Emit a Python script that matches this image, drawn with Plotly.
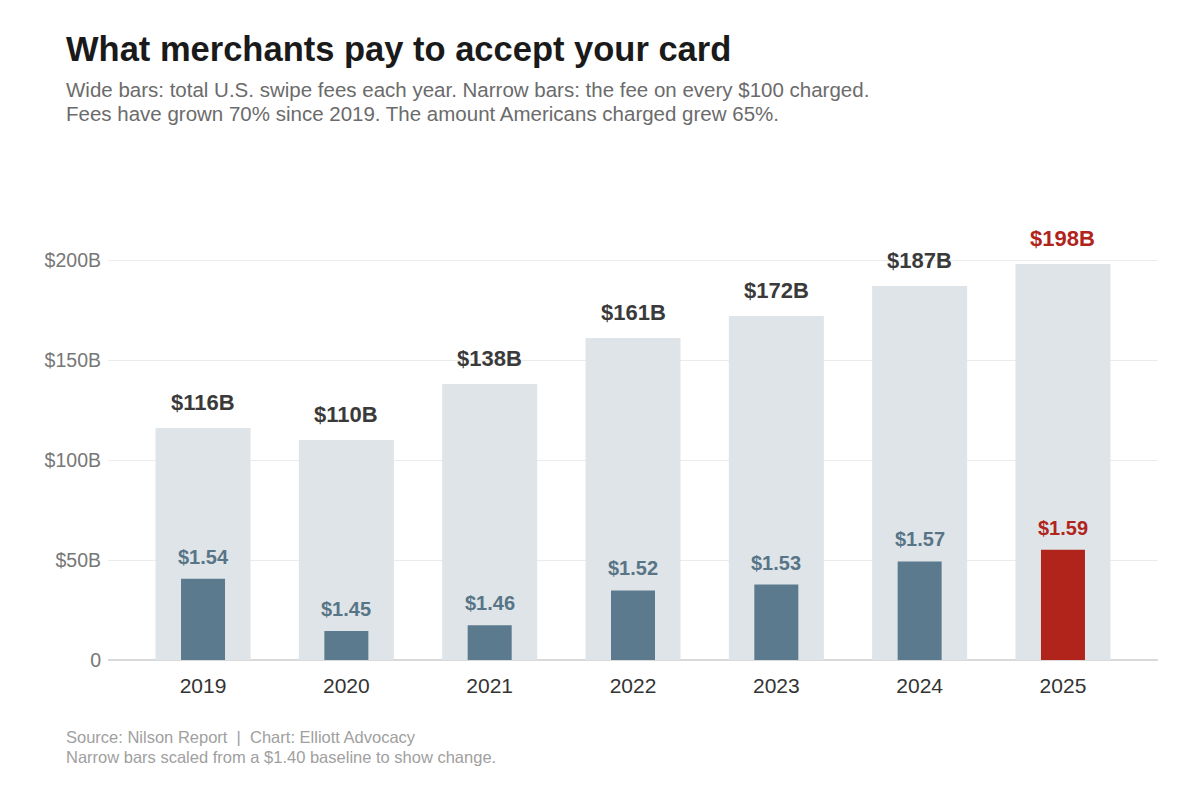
import plotly.graph_objects as go

years = ["2019", "2020", "2021", "2022", "2023", "2024", "2025"]
total_fees_b = [116, 110, 138, 161, 172, 187, 198]
fee_per_100 = [1.54, 1.45, 1.46, 1.52, 1.53, 1.57, 1.59]
fee_baseline = 1.40
fee_scale = 290  # $B of axis per $1 above baseline

y_ticks = [0, 50, 100, 150, 200]
y_tick_text = ["0", "$50B", "$100B", "$150B", "$200B"]

narrow_heights = [(v - fee_baseline) * fee_scale for v in fee_per_100]
xpos = list(range(len(years)))

GREY_BAR = "#dfe4e8"
BLUE = "#5b7a8e"
RED = "#b0241c"
DARK = "#333333"
FONT = "Liberation Sans, Arial, sans-serif"

narrow_colors = [BLUE] * (len(years) - 1) + [RED]
wide_label_colors = ["#3a3a3a"] * (len(years) - 1) + [RED]
narrow_label_colors = ["#587587"] * (len(years) - 1) + [RED]

fig = go.Figure()
fig.add_trace(go.Bar(
    x=xpos, y=total_fees_b, width=0.663,
    marker=dict(color=GREY_BAR, line=dict(width=0)),
    hoverinfo="skip", showlegend=False,
))
fig.add_trace(go.Bar(
    x=xpos, y=narrow_heights, width=0.307,
    marker=dict(color=narrow_colors, line=dict(width=0)),
    hoverinfo="skip", showlegend=False,
))

annotations = []
for i, v, c in zip(xpos, total_fees_b, wide_label_colors):
    annotations.append(dict(
        x=i, y=v, xref="x", yref="y", text=f"${v}B", showarrow=False,
        yanchor="bottom", yshift=11,
        font=dict(family=FONT, size=22, color=c, weight="bold"),
    ))
for i, h, v, c in zip(xpos, narrow_heights, fee_per_100, narrow_label_colors):
    annotations.append(dict(
        x=i, y=h, xref="x", yref="y", text=f"${v:.2f}", showarrow=False,
        yanchor="bottom", yshift=9,
        font=dict(family=FONT, size=20, color=c, weight="bold"),
    ))


def paper_y(px):
    # plot area: top 220, bottom 660
    return (660 - px) / 440.0


def paper_x(px):
    return (px - 108) / 1050.0


annotations += [
    dict(x=paper_x(64), y=paper_y(49), xref="paper", yref="paper", xanchor="left", yanchor="middle",
         text="What merchants pay to accept your card", showarrow=False,
         font=dict(family=FONT, size=34.5, color="#1a1a1a", weight="bold")),
    dict(x=paper_x(64), y=paper_y(89), xref="paper", yref="paper", xanchor="left", yanchor="middle",
         text="Wide bars: total U.S. swipe fees each year. Narrow bars: the fee on every $100 charged.",
         showarrow=False, font=dict(family=FONT, size=20.5, color="#6b6b6b")),
    dict(x=paper_x(64), y=paper_y(114), xref="paper", yref="paper", xanchor="left", yanchor="middle",
         text="Fees have grown 70% since 2019. The amount Americans charged grew 65%.",
         showarrow=False, font=dict(family=FONT, size=20.5, color="#6b6b6b")),
    dict(x=paper_x(64), y=paper_y(737), xref="paper", yref="paper", xanchor="left", yanchor="middle",
         text="Source: Nilson Report  |  Chart: Elliott Advocacy", showarrow=False,
         font=dict(family=FONT, size=16.5, color="#a0a0a0")),
    dict(x=paper_x(64), y=paper_y(757), xref="paper", yref="paper", xanchor="left", yanchor="middle",
         text="Narrow bars scaled from a $1.40 baseline to show change.", showarrow=False,
         font=dict(family=FONT, size=16.5, color="#a0a0a0")),
]

fig.update_layout(
    width=1200, height=800,
    barmode="overlay",
    paper_bgcolor="white", plot_bgcolor="white",
    margin=dict(l=108, r=42, t=220, b=140, autoexpand=False),
    font=dict(family=FONT),
    annotations=annotations,
    xaxis=dict(
        range=[-0.663, 6.663], tickvals=xpos, ticktext=years,
        showgrid=False, showline=False, zeroline=False,
        ticks="", tickfont=dict(size=21, color=DARK), ticklabelstandoff=11,
        fixedrange=True,
    ),
    yaxis=dict(
        range=[0, 220], tickvals=y_ticks, ticktext=y_tick_text,
        showgrid=True, gridcolor="#ebebeb", gridwidth=1,
        zeroline=True, zerolinecolor="#d9d9d9", zerolinewidth=1.5,
        showline=False, ticks="", tickfont=dict(size=19.5, color="#777777"),
        ticklabelstandoff=6, fixedrange=True,
    ),
)

fig.write_html("out.html", config={"displayModeBar": False},
               post_script="document.body.style.margin='0px';")
